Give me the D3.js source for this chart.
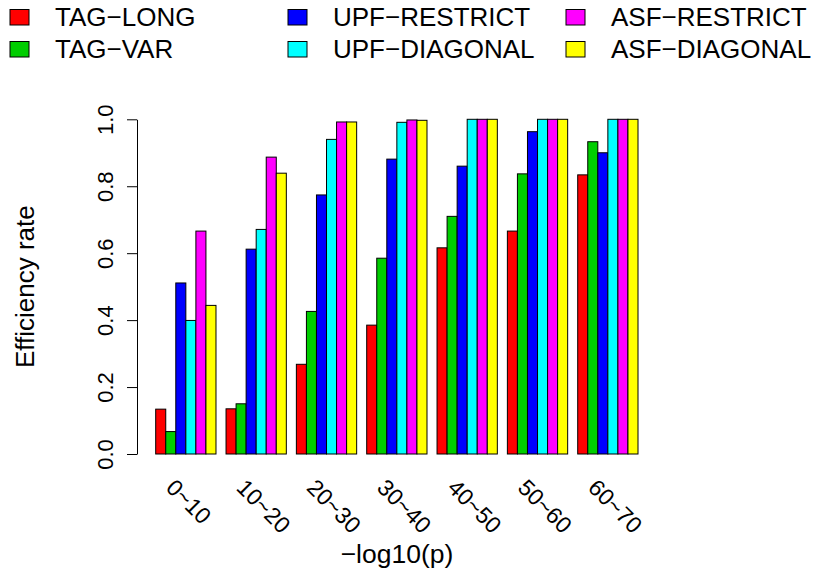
<!DOCTYPE html>
<html lang="en">
<head>
    <meta charset="UTF-8">
    <script src="https://d3js.org/d3.v7.min.js"></script>
    <title>Efficiency rate</title>
    <style>
        body { margin: 0; background: #fff; }
        svg { display: block; font-family: "Liberation Sans", Arial, Helvetica, sans-serif; }
    </style>
</head>
<body>
    <div id="container"></div>
</body>
    <script>
        // groups on the x axis (-log10(p) bins)
        var categories = ["0~10", "10~20", "20~30", "30~40", "40~50", "50~60", "60~70"];
        // methods, in bar order
        var seriesNames = ["TAG\u2212LONG", "TAG\u2212VAR", "UPF\u2212RESTRICT", "UPF\u2212DIAGONAL", "ASF\u2212RESTRICT", "ASF\u2212DIAGONAL"];
        var seriesColors = ["#ff0000", "#00cd00", "#0000ff", "#00ffff", "#ff00ff", "#ffff00"];
        // efficiency rate per group, one array per method
        var tagLong     = [0.134, 0.135, 0.268, 0.385, 0.616, 0.666, 0.834];
        var tagVar      = [0.067, 0.150, 0.426, 0.585, 0.710, 0.837, 0.933];
        var upfRestrict = [0.511, 0.612, 0.774, 0.881, 0.860, 0.963, 0.900];
        var upfDiagonal = [0.399, 0.671, 0.940, 0.991, 1.000, 1.000, 1.000];
        var asfRestrict = [0.666, 0.887, 0.992, 0.998, 1.000, 1.000, 1.000];
        var asfDiagonal = [0.444, 0.839, 0.992, 0.997, 1.000, 1.000, 1.000];
        var yTicks = [0, 0.2, 0.4, 0.6, 0.8, 1.0];

        var series = [tagLong, tagVar, upfRestrict, upfDiagonal, asfRestrict, asfDiagonal];

        var width = 817, height = 577;
        // plot region (R style: y axis sits at the left edge of the plot region)
        var plot = {left: 137, right: 657, top: 119.3, bottom: 454};

        var svg = d3.select("#container").append("svg")
            .attr("width", width).attr("height", height);

        // group scale, then one band per method inside each group
        var x0 = d3.scaleBand()
            .domain(categories)
            .range([155.7, 638])
            .paddingInner(1 / 7);
        var x1 = d3.scaleBand()
            .domain(d3.range(seriesNames.length))
            .range([0, x0.bandwidth()]);
        var y = d3.scaleLinear()
            .domain([0, 1])
            .range([plot.bottom, plot.top]);

        // bars
        var groups = svg.append("g").selectAll("g")
            .data(categories)
            .join("g")
            .attr("transform", d => `translate(${x0(d)},0)`);

        groups.selectAll("rect")
            .data((d, i) => series.map((s, k) => ({k: k, v: s[i]})))
            .join("rect")
            .attr("x", d => x1(d.k))
            .attr("y", d => y(d.v))
            .attr("width", x1.bandwidth())
            .attr("height", d => y(0) - y(d.v))
            .attr("fill", d => seriesColors[d.k])
            .attr("stroke", "#000")
            .attr("stroke-width", 1);

        // y axis
        var yAxis = svg.append("g")
            .attr("transform", `translate(${plot.left},0)`)
            .call(d3.axisLeft(y).tickValues(yTicks).tickFormat(d3.format(".1f")).tickSize(10).tickSizeOuter(0));
        yAxis.select(".domain").attr("stroke", "#000");
        yAxis.selectAll(".tick line").attr("stroke", "#000");
        yAxis.selectAll(".tick text").remove();
        yAxis.selectAll(".tick").append("text")
            .attr("transform", "translate(-24,0) rotate(-90)")
            .attr("text-anchor", "middle")
            .attr("fill", "#000")
            .attr("font-size", 22)
            .text(d => d3.format(".1f")(d));

        // x group labels, rotated
        svg.append("g").selectAll("text")
            .data(categories)
            .join("text")
            .attr("transform", d => `translate(${x0(d) + x0.bandwidth() / 2 - 21},489) rotate(45)`)
            .attr("text-anchor", "start")
            .attr("font-size", 23)
            .text(d => d);

        // axis titles
        svg.append("text")
            .attr("x", (plot.left + plot.right) / 2)
            .attr("y", 563)
            .attr("text-anchor", "middle")
            .attr("font-size", 26.5)
            .text("\u2212log10(p)");
        svg.append("text")
            .attr("transform", `translate(34,${(plot.top + plot.bottom) / 2}) rotate(-90)`)
            .attr("text-anchor", "middle")
            .attr("font-size", 26)
            .text("Efficiency rate");

        // legend: 3 columns x 2 rows
        var legend = svg.append("g").selectAll("g")
            .data(seriesNames)
            .join("g")
            .attr("transform", (d, i) => `translate(${10 + Math.floor(i / 2) * 278},${9.5 + (i % 2) * 32})`);
        legend.append("rect")
            .attr("width", 19).attr("height", 15.5)
            .attr("fill", (d, i) => seriesColors[i])
            .attr("stroke", "#000").attr("stroke-width", 1);
        legend.append("text")
            .attr("x", 45).attr("y", 16)
            .attr("font-size", 26)
            .text(d => d);
    </script>
</html>
